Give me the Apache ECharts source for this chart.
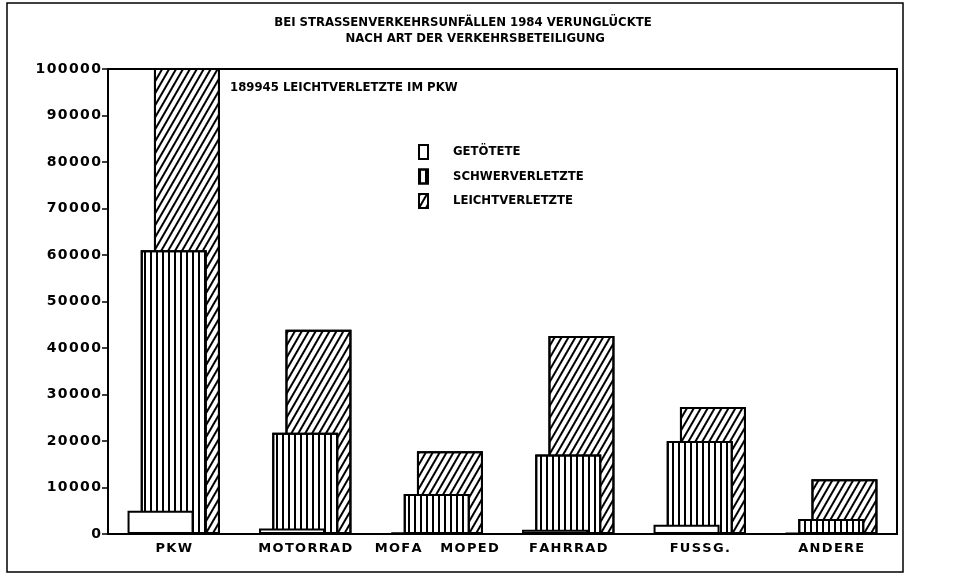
<!DOCTYPE html>
<html>
<head>
<meta charset="utf-8">
<script src="https://cdn.jsdelivr.net/npm/echarts@6/dist/echarts.min.js"></script>
<style>
  html, body { margin: 0; padding: 0; background: #fff; }
  #main { width: 965px; height: 576px; }
</style>
</head>
<body>
<div id="main"></div>
<script>
const categories = ['PKW', 'MOTORRAD', 'MOFA   MOPED', 'FAHRRAD', 'FUSSG.', 'ANDERE'];
const getoetete = [5000, 1200, 300, 900, 2000, 200];
const schwerverletzte = [61000, 21800, 8600, 17100, 20000, 3200];
const leichtverletzte = [189945, 43900, 17800, 42600, 27300, 11750];
const yTicks = [0, 10000, 20000, 30000, 40000, 50000, 60000, 70000, 80000, 90000, 100000];

const condensed = '"DejaVu Sans Condensed", "Liberation Sans Narrow", sans-serif';
// gesperrte Schrift wie beim Plotter
const spaced = s => String(s).split('').join('\u200A');

const chart = echarts.init(document.getElementById('main'));

const barBase = {
    type: 'bar',
    barWidth: 66,
    barGap: '-80%',
    animation: false
};

const option = {
    backgroundColor: '#fff',
    title: {
        text: 'BEI STRASSENVERKEHRSUNFÄLLEN 1984 VERUNGLÜCKTE\n      NACH ART DER VERKEHRSBETEILIGUNG',
        left: 458,
        top: 10,
        textAlign: 'center',
        textStyle: {
            fontFamily: condensed,
            fontSize: 13,
            fontWeight: 'bold',
            color: '#000',
            lineHeight: 16
        }
    },
    legend: {
        orient: 'vertical',
        left: 413,
        top: 139,
        itemWidth: 9,
        itemHeight: 14,
        itemGap: 8.5,
        icon: 'rect',
        data: ['GETÖTETE', 'SCHWERVERLETZTE', 'LEICHTVERLETZTE'],
        textStyle: {
            fontFamily: condensed,
            fontSize: 13,
            fontWeight: 'bold',
            color: '#000',
            padding: [0, 0, 0, 20]
        }
    },
    grid: {
        left: 108,
        right: 68,
        top: 69,
        bottom: 42,
        show: true,
        borderColor: '#000',
        borderWidth: 2,
        backgroundColor: '#fff'
    },
    xAxis: {
        type: 'category',
        data: categories,
        axisLine: { lineStyle: { color: '#000', width: 2 } },
        axisTick: { alignWithLabel: true, length: 7, lineStyle: { color: '#000', width: 1.5 } },
        axisLabel: {
            interval: 0,
            color: '#000',
            fontFamily: '"DejaVu Sans", sans-serif',
            fontSize: 13,
            fontWeight: 'bold',
            margin: 8,
            formatter: v => spaced(v)
        }
    },
    yAxis: {
        type: 'value',
        min: 0,
        max: 100000,
        interval: 10000,
        splitLine: { show: false },
        axisLine: { show: true, lineStyle: { color: '#000', width: 2 } },
        axisTick: { show: true, length: 6, lineStyle: { color: '#000', width: 1.5 } },
        axisLabel: {
            color: '#000',
            fontFamily: '"DejaVu Sans", sans-serif',
            fontSize: 14,
            fontWeight: 'bold',
            margin: 7,
            formatter: v => yTicks.includes(v) ? spaced(v) : ''
        }
    },
    series: [{
        ...barBase,
        name: 'GETÖTETE',
        data: getoetete,
        z: 4,
        itemStyle: { color: '#fff', borderColor: '#000', borderWidth: 2 }
    }, {
        ...barBase,
        name: 'SCHWERVERLETZTE',
        data: schwerverletzte,
        z: 3,
        itemStyle: {
            color: '#fff', borderColor: '#000', borderWidth: 2,
            decal: {
                symbol: 'rect', symbolSize: 1, color: '#000',
                dashArrayX: [2, 3.5], dashArrayY: [4, 0], rotation: 0
            }
        }
    }, {
        ...barBase,
        name: 'LEICHTVERLETZTE',
        data: leichtverletzte,
        z: 2,
        itemStyle: {
            color: '#fff', borderColor: '#000', borderWidth: 2,
            decal: {
                symbol: 'rect', symbolSize: 1, color: '#000',
                dashArrayX: [2, 4], dashArrayY: [4, 0], rotation: Math.PI / 6
            }
        }
    }],
    graphic: [{
        type: 'rect',
        shape: { x: 7, y: 3, width: 896, height: 569 },
        style: { fill: 'none', stroke: '#000', lineWidth: 1.5 },
        silent: true
    }, {
        type: 'text',
        left: 230,
        top: 81,
        style: {
            text: '189945 LEICHTVERLETZTE IM PKW',
            fontFamily: condensed,
            fontSize: 13,
            fontWeight: 'bold',
            fill: '#000'
        }
    }]
};

window.addEventListener('resize', () => chart.resize());
chart.setOption(option);
</script>
</body>
</html>
